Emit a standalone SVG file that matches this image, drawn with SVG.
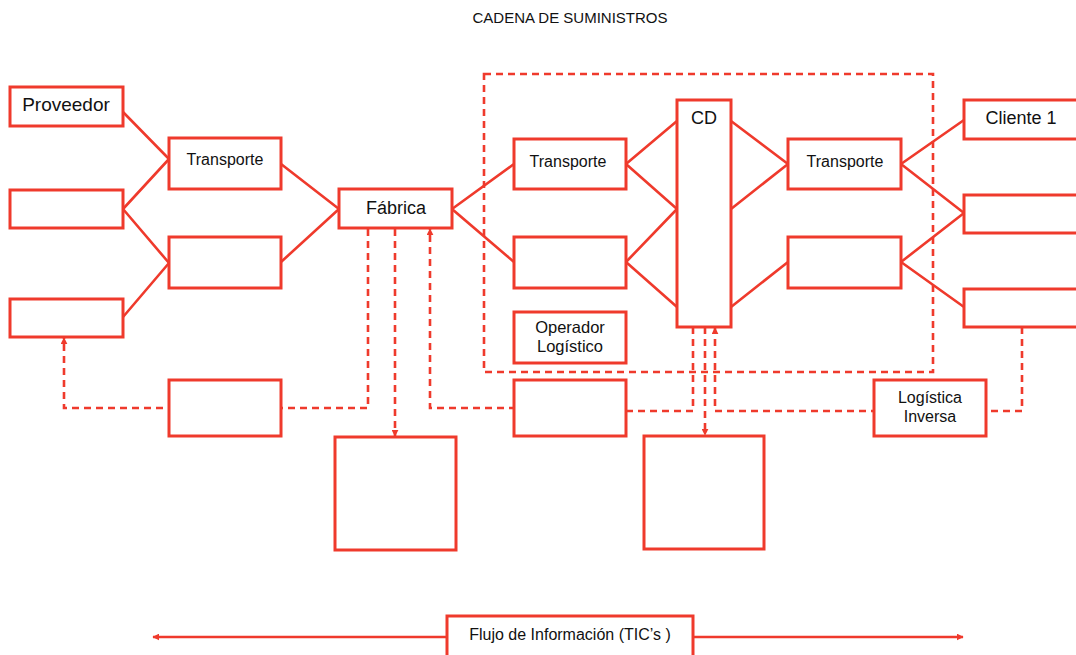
<svg xmlns="http://www.w3.org/2000/svg" width="1076" height="655" viewBox="0 0 1076 655">
<style>
.box{fill:#fff;stroke:#ef3a2c;stroke-width:3}
.ln{fill:none;stroke:#ef3a2c;stroke-width:2.6}
.ds{fill:none;stroke:#ef3a2c;stroke-width:2.6;stroke-dasharray:7 5}
.t{font-family:"Liberation Sans",Arial,sans-serif;fill:#111;text-anchor:middle}
</style>
<defs>
<marker id="ah" viewBox="0 0 10 10" refX="9" refY="5" markerWidth="7" markerHeight="7" markerUnits="userSpaceOnUse" orient="auto">
<path d="M0,0 L10,5 L0,10 z" fill="#ef3a2c"/>
</marker>
<marker id="ahs" viewBox="0 0 10 10" refX="9" refY="5" markerWidth="7" markerHeight="7" markerUnits="userSpaceOnUse" orient="auto-start-reverse">
<path d="M0,0 L10,5 L0,10 z" fill="#ef3a2c"/>
</marker>
</defs>
<rect width="1076" height="655" fill="#fff"/>
<text class="t" x="570" y="23" font-size="15">CADENA DE SUMINISTROS</text>
<rect id="operador-frame" x="484" y="74" width="449" height="298" class="ds"/>
<g id="connectors">
<path class="ln" d="M123,112 L169,159 M123,209 L169,159 M123,209 L169,263 M123,317 L169,263"/>
<path class="ln" d="M281,164 L339,209 M281,262 L339,209"/>
<path class="ln" d="M514,164 L452,209 L514,262"/>
<path class="ln" d="M626,164 L677,121 M626,164 L677,209 M626,262 L677,209 M626,262 L677,307"/>
<path class="ln" d="M731,121 L788,164 M731,209 L788,164 M731,307 L788,262"/>
<path class="ln" d="M901,164 L964,120 M901,164 L964,213 M901,262 L964,213 M901,262 L964,307"/>
<path class="ds" d="M368,229 V408 H64 V338" marker-end="url(#ah)"/>
<path class="ds" d="M395,229 V436" marker-end="url(#ah)"/>
<path class="ds" d="M693,327 V411 H570 V408 H430 V229" marker-end="url(#ah)"/>
<path class="ds" d="M705,327 V435" marker-end="url(#ah)"/>
<path class="ds" d="M1022,327 V411 H715 V328" marker-end="url(#ah)"/>
<path class="ln" d="M153,637 H963" marker-start="url(#ahs)" marker-end="url(#ahs)"/>
</g>
<g id="proveedor"><rect class="box" x="10" y="87" width="113" height="39"/><text class="t" x="66" y="111" font-size="19">Proveedor</text></g>
<g id="proveedor-2"><rect class="box" x="10" y="190" width="113" height="38"/></g>
<g id="proveedor-3"><rect class="box" x="10" y="299" width="113" height="38"/></g>
<g id="transporte-1"><rect class="box" x="169" y="138" width="112" height="51"/><text class="t" x="225" y="165" font-size="16">Transporte</text></g>
<g id="transporte-1b"><rect class="box" x="169" y="237" width="112" height="51"/></g>
<g id="inverso-1"><rect class="box" x="169" y="380" width="112" height="56"/></g>
<g id="fabrica"><rect class="box" x="339" y="189" width="113" height="39"/><text class="t" x="396" y="214" font-size="18">Fábrica</text></g>
<g id="almacen-1"><rect class="box" x="335" y="437" width="121" height="113"/></g>
<g id="transporte-2"><rect class="box" x="514" y="139" width="112" height="50"/><text class="t" x="568" y="167" font-size="16">Transporte</text></g>
<g id="transporte-2b"><rect class="box" x="514" y="237" width="112" height="51"/></g>
<g id="operador"><rect class="box" x="514" y="312" width="112" height="51"/><text class="t" x="570" y="333" font-size="16.5">Operador</text><text class="t" x="570" y="352" font-size="16.5">Logístico</text></g>
<g id="inverso-2"><rect class="box" x="514" y="380" width="112" height="56"/></g>
<g id="cd"><rect class="box" x="677" y="100" width="54" height="227"/><text class="t" x="704" y="124" font-size="18">CD</text></g>
<g id="almacen-2"><rect class="box" x="644" y="436" width="120" height="113"/></g>
<g id="transporte-3"><rect class="box" x="788" y="139" width="113" height="50"/><text class="t" x="845" y="167" font-size="16">Transporte</text></g>
<g id="transporte-3b"><rect class="box" x="788" y="237" width="113" height="51"/></g>
<g id="cliente-1"><rect class="box" x="964" y="100" width="116" height="39"/><text class="t" x="1021" y="124" font-size="18">Cliente 1</text></g>
<g id="cliente-2"><rect class="box" x="964" y="195" width="116" height="38"/></g>
<g id="cliente-3"><rect class="box" x="964" y="289" width="116" height="38"/></g>
<g id="logistica-inversa"><rect class="box" x="874" y="380" width="112" height="56"/><text class="t" x="930" y="403" font-size="16">Logística</text><text class="t" x="930" y="422" font-size="16">Inversa</text></g>
<g id="flujo-informacion"><rect class="box" x="447" y="616" width="246" height="42"/><text class="t" x="570" y="640" font-size="16">Flujo de Información (TIC’s )</text></g>
</svg>
